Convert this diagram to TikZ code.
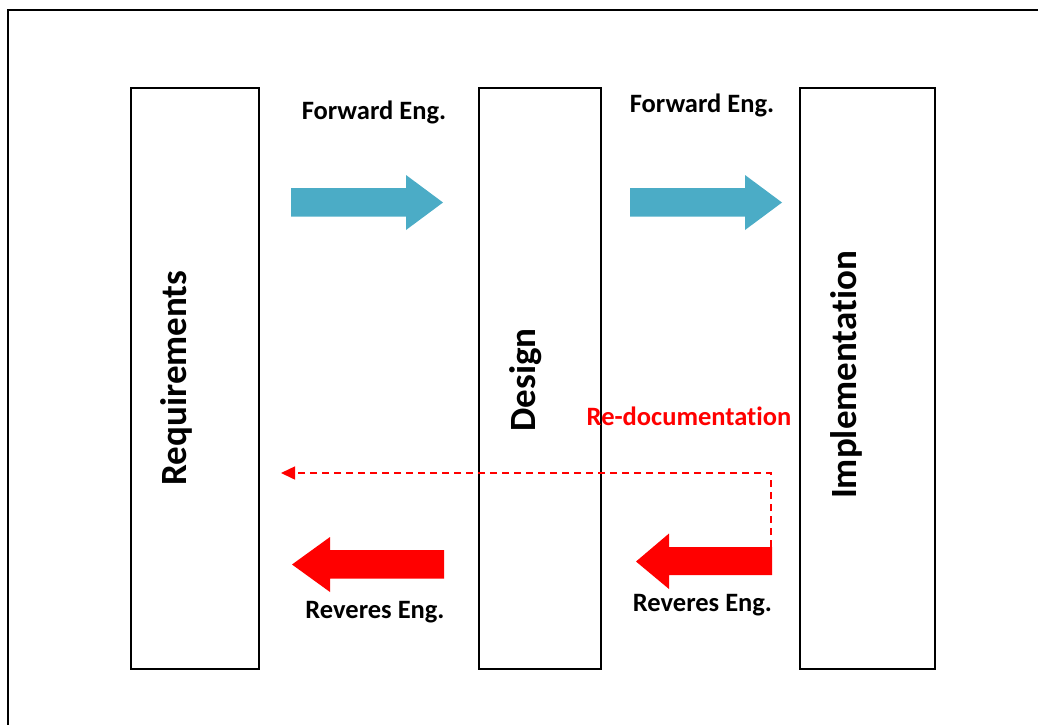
\documentclass[tikz,border=0pt]{standalone}
\usepackage{fontspec}
\setmainfont{Carlito}[RawFeature=-liga]
\usetikzlibrary{arrows.meta}
\definecolor{fwdblue}{RGB}{75,172,198}
\definecolor{revred}{RGB}{255,0,0}
\begin{document}
\begin{tikzpicture}[x=1pt,y=-1pt,
  stage/.style={draw=black,line width=2pt,minimum width=#1,minimum height=581pt,inner sep=0pt},
  stagetext/.style={rotate=90,anchor=base,font=\fontsize{37}{40}\selectfont\bfseries,inner sep=0pt},
  englabel/.style={anchor=base,font=\fontsize{26.5}{30}\selectfont\bfseries,inner sep=0pt},
  fwdarrow/.style={fill=fwdblue},
  revarrow/.style={fill=revred},
  redoc/.style={draw=revred,line width=1.5pt,dash pattern=on 7pt off 5pt}]
  \useasboundingbox (0,0) rectangle (1038,724);
  \clip (0,0) rectangle (1038,724);
  % outer frame (runs past the right and bottom edges)
  \draw[line width=2pt] (8,760) -- (8,10) -- (1070,10);

  % the three stages
  \node[stage=128pt] (req) at (195,378.5) {};
  \node[stage=122pt] (des) at (540,378.5) {};
  \node[stage=135pt] (imp) at (867.5,378.5) {};
  \node[stagetext] (reqt) at (186,378) {Requirements};
  \node[stagetext] (dest) at (535,380) {Design};
  \node[stagetext] (impt) at (856,375) {Implementation};

  % forward engineering block arrows
  \fill[fwdarrow] (291,188) -- (406,188) -- (406,175) -- (443,202.5) -- (406,230) -- (406,216.5) -- (291,216.5) -- cycle;
  \fill[fwdarrow] (630,188) -- (745,188) -- (745,175) -- (782,202.5) -- (745,230) -- (745,216.5) -- (630,216.5) -- cycle;
  \node[englabel] (fwd1) at (374,119) {Forward Eng.};
  \node[englabel] (fwd2) at (702,112.5) {Forward Eng.};

  % reverse engineering block arrows
  \fill[revarrow] (444,550) -- (330,550) -- (330,537) -- (292,564.5) -- (330,592) -- (330,578.5) -- (444,578.5) -- cycle;
  \fill[revarrow] (772,547) -- (669,547) -- (669,533.5) -- (636,561.5) -- (669,589) -- (669,575) -- (772,575) -- cycle;
  \node[englabel] (rev1) at (375,618) {Reveres Eng.};
  \node[englabel] (rev2) at (702.5,611) {Reveres Eng.};

  % re-documentation path
  \coordinate (rdstart) at (771,547);
  \coordinate (rdcorner) at (771,473);
  \coordinate (rdend) at (281,473);
  \draw[redoc,-{Triangle[length=14pt,width=13pt]}] (rdstart) -- (rdcorner) -- (rdend);
  \node[englabel,text=revred] (redoct) at (689,425) {Re-documentation};
\end{tikzpicture}
\end{document}
